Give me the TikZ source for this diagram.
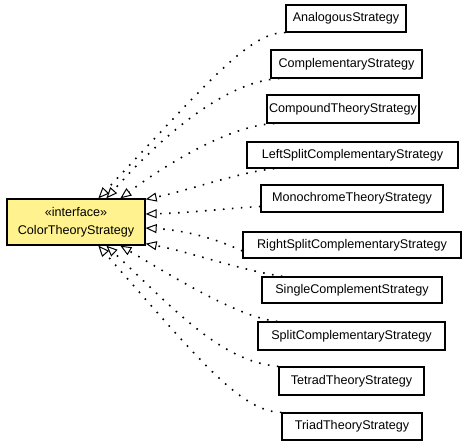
\documentclass[tikz,border=0pt]{standalone}
\usepackage{fontspec}
\setmainfont{Liberation Sans}
\usetikzlibrary{arrows.meta,calc}
\definecolor{ifacefill}{RGB}{255,242,143}
\begin{document}
\begin{tikzpicture}[x=1pt,y=-1pt,
  cls/.style={draw=black, line width=1.2pt, inner sep=0pt, fill=white,
    font=\fontsize{12.6}{15}\selectfont},
  iface/.style={draw=black, line width=1.3pt, fill=ifacefill, minimum width=138pt,
    minimum height=46pt, inner sep=0pt, align=center, font=\fontsize{12.6}{18}\selectfont},
  real/.style={line width=1.6pt, dash pattern=on 1.6pt off 7.4pt,
    -{Triangle[open, length=11pt, width=9pt, line width=1pt]}}]
\useasboundingbox (0,0) rectangle (467,445);

\node[iface] (c) at (76,222) {«interface»\\ColorTheoryStrategy};

\node[cls, minimum width=120pt, minimum height=27pt] (a1) at (346,18.5) {AnalogousStrategy};
\node[cls, minimum width=151pt, minimum height=28pt] (a2) at (346.5,64) {ComplementaryStrategy};
\node[cls, minimum width=152pt, minimum height=28pt] (a3) at (343,109) {CompoundTheoryStrategy};
\node[cls, minimum width=211pt, minimum height=26pt] (a4) at (352.5,155) {LeftSplitComplementaryStrategy};
\node[cls, minimum width=182pt, minimum height=27pt] (a5) at (352,198.5) {MonochromeTheoryStrategy};
\node[cls, minimum width=218pt, minimum height=26pt] (a6) at (352,245) {RightSplitComplementaryStrategy};
\node[cls, minimum width=180pt, minimum height=26pt] (a7) at (352,290) {SingleComplementStrategy};
\node[cls, minimum width=187pt, minimum height=28pt] (a8) at (351.5,336) {SplitComplementaryStrategy};
\node[cls, minimum width=145pt, minimum height=28pt] (a9) at (351.5,381) {TetradTheoryStrategy};
\node[cls, minimum width=140pt, minimum height=27pt] (a10) at (352,426.5) {TriadTheoryStrategy};

\draw[real] (a1.south west) .. controls (250,32) and (210,80) .. ([xshift=92pt]c.north west);
\draw[real] ([xshift=9pt]a2.south west) .. controls (245,80) and (190,105) .. ([xshift=100pt]c.north west);
\draw[real] ([xshift=8pt]a3.south west) .. controls (230,125) and (165,165) .. ([xshift=114pt]c.north west);
\draw[real] ([xshift=28pt]a4.south west) .. controls (240,172) and (190,190) .. ([yshift=-1pt]c.north east);
\draw[real] ([yshift=-8pt]a5.west) .. controls (230,208) and (190,213) .. ([yshift=8pt]c.east);
\draw[real] ([yshift=-6pt]a6.west) .. controls (210,236) and (180,230) .. ([yshift=-6pt]c.east);
\draw[real] ([xshift=21pt]a7.north west) .. controls (240,270) and (190,252) .. ([yshift=2pt]c.south east);
\draw[real] ([xshift=20pt]a8.north west) .. controls (240,318) and (175,278) .. ([xshift=114pt]c.south west);
\draw[real] (a9.north west) .. controls (220,362) and (170,305) .. ([xshift=100pt]c.south west);
\draw[real] (a10.north west) .. controls (240,412) and (195,355) .. ([xshift=92pt]c.south west);
\end{tikzpicture}
\end{document}
